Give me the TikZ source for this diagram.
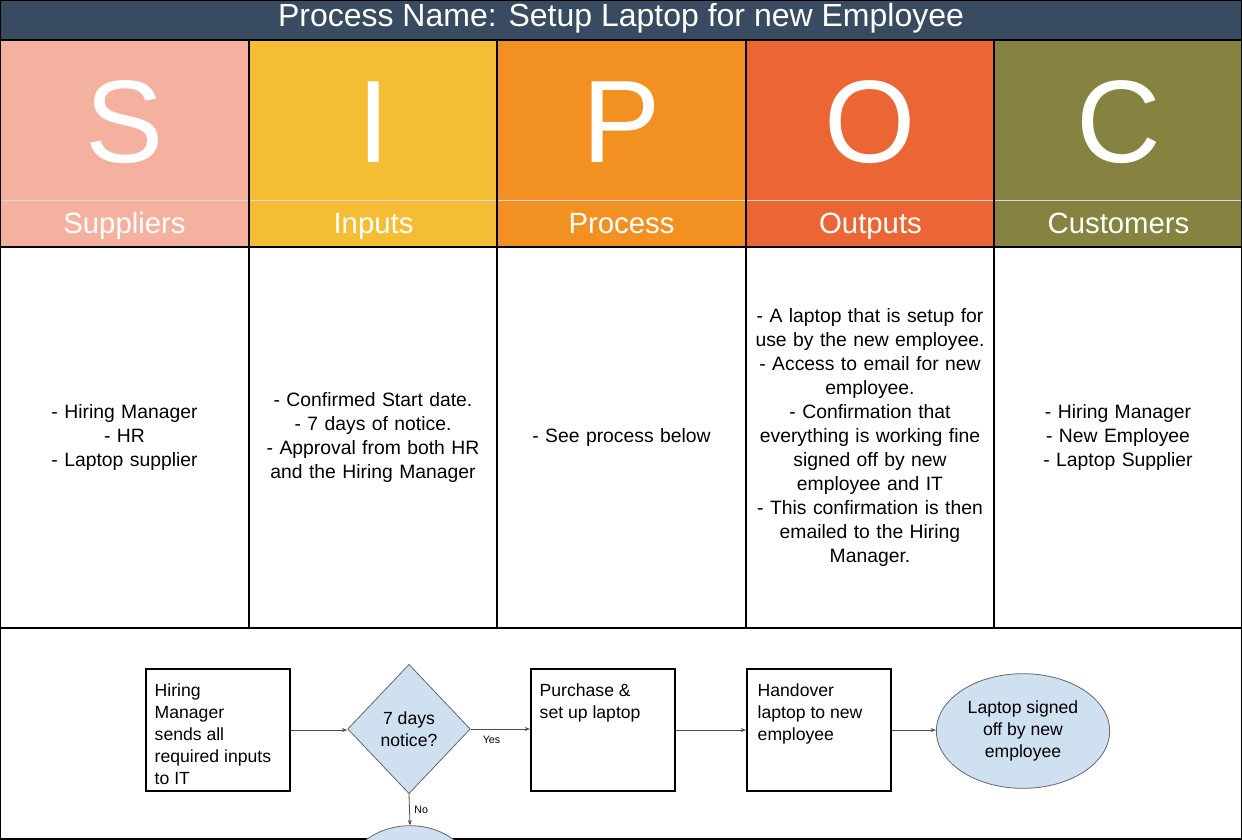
\documentclass[tikz,border=0pt]{standalone}
\usepackage{fontspec}
\setmainfont{Liberation Sans}
\usetikzlibrary{shapes.geometric,arrows.meta}
\hyphenpenalty=10000
\exhyphenpenalty=10000
\definecolor{hdr}{HTML}{384B60}
\definecolor{cS}{HTML}{F5B19F}
\definecolor{cI}{HTML}{F4BD33}
\definecolor{cP}{HTML}{F39022}
\definecolor{cO}{HTML}{EC6535}
\definecolor{cC}{HTML}{868341}
\definecolor{fl}{HTML}{CFE0F0}
\begin{document}
\begin{tikzpicture}[x=0.75pt,y=-0.75pt,
  big/.style={text=white,font=\fontsize{88}{88}\selectfont,anchor=base},
  lab/.style={text=white,font=\fontsize{22}{26}\selectfont,anchor=base},
  body/.style={align=center,font=\fontsize{14.5}{18}\selectfont,text width=180pt},
  fbox/.style={draw,line width=1.6pt,minimum width=108pt,minimum height=91.5pt,anchor=north west,inner sep=0pt},
  ftxt/.style={font=\fontsize{13.2}{16.5}\selectfont,align=center},
  arr/.style={-{Stealth[length=4pt,width=3pt]},draw=black!70,line width=0.6pt},
  small/.style={font=\fontsize{8}{9}\selectfont}]
\useasboundingbox (0,0) rectangle (1242,839);
\begin{scope}
\clip (0,0) rectangle (1242,839);
\fill[hdr] (0,0) rectangle (1242,40);
\node[text=white,font=\fontsize{24}{28}\selectfont,anchor=base] (title) at (621,26) {Process Name: Setup Laptop for new Employee};
\foreach \c/\x/\L/\T [count=\i] in {cS/0/S/Suppliers,cI/249/I/Inputs,cP/497/P/Process,cO/746/O/Outputs,cC/994/C/Customers}{
  \fill[\c] (\x,40) rectangle ++(249,207);
  \draw[black!15,line width=0.6pt] (\x,200) -- ++(249,0);
  \node[big] (L\i) at (\x+124.5,162) {\L};
  \node[lab] (T\i) at (\x+124.5,233) {\T};
}
\draw[line width=1pt] (0,40) -- (1242,40);
\foreach \x in {249,497,746,994} \draw[line width=0.8pt] (\x,40) -- (\x,628);
\draw[line width=1pt] (0,247) -- (1242,247);
\draw[line width=0.8pt] (0,628) -- (1242,628);
\draw[line width=1.2pt] (0,0) rectangle (1242,839);
\node[body] (b1) at (124.5,437) {- Hiring Manager\\- HR\\- Laptop supplier};
\node[body] (b2) at (373,437) {- Confirmed Start date.\\- 7 days of notice.\\- Approval from both HR and the Hiring Manager};
\node[body] (b3) at (621.5,437) {- See process below};
\node[body,text width=178pt] (b4) at (870,437) {- A laptop that is setup for use by the new employee.\\- Access to email for new\\employee.\\- Confirmation that\\everything is working fine\\signed off by new\\employee and IT\\- This confirmation is then\\emailed to the Hiring\\Manager.};
\node[body] (b5) at (1118,437) {- Hiring Manager\\- New Employee\\- Laptop Supplier};
% flowchart
\node[fbox] (f1) at (145,668) {};
\node[ftxt,align=left,anchor=north west] (f1t) at (150,679) {Hiring\\Manager\\sends all\\required inputs\\to IT};
\node[diamond,draw=black!60,fill=fl,line width=0.6pt,minimum width=92pt,minimum height=97pt,inner sep=0pt,ftxt] (d) at (409,729) {7 days\\notice?};
\node[fbox] (f2) at (530,668) {};
\node[ftxt,align=left,anchor=north west] (f2t) at (535,679) {Purchase \&\\set up laptop};
\node[fbox] (f3) at (746,668) {};
\node[ftxt,align=left,anchor=north west] (f3t) at (753,679) {Handover\\laptop to new\\employee};
\node[ellipse,draw=black!60,fill=fl,line width=0.6pt,minimum width=130pt,minimum height=86pt,inner sep=0pt,ftxt] (e1) at (1023,731) {Laptop signed\\off by new\\employee};
\node[ellipse,draw=black!60,fill=fl,line width=0.6pt,minimum width=100pt,minimum height=86pt] (e2) at (410,883) {};
\draw[arr] (f1.east) -- (f1.east -| d.west);
\draw[arr] (d.east) -- (d.east -| f2.west) node[pos=0.35,below,small,yshift=-2pt] {Yes};
\draw[arr] (f2.east) -- (f3.west);
\draw[arr] (f3.east) -- (f3.east -| e1.west);
\draw[arr] (d.south) -- (e2.north) node[midway,right,small] {No};
\end{scope}
\end{tikzpicture}
\end{document}
